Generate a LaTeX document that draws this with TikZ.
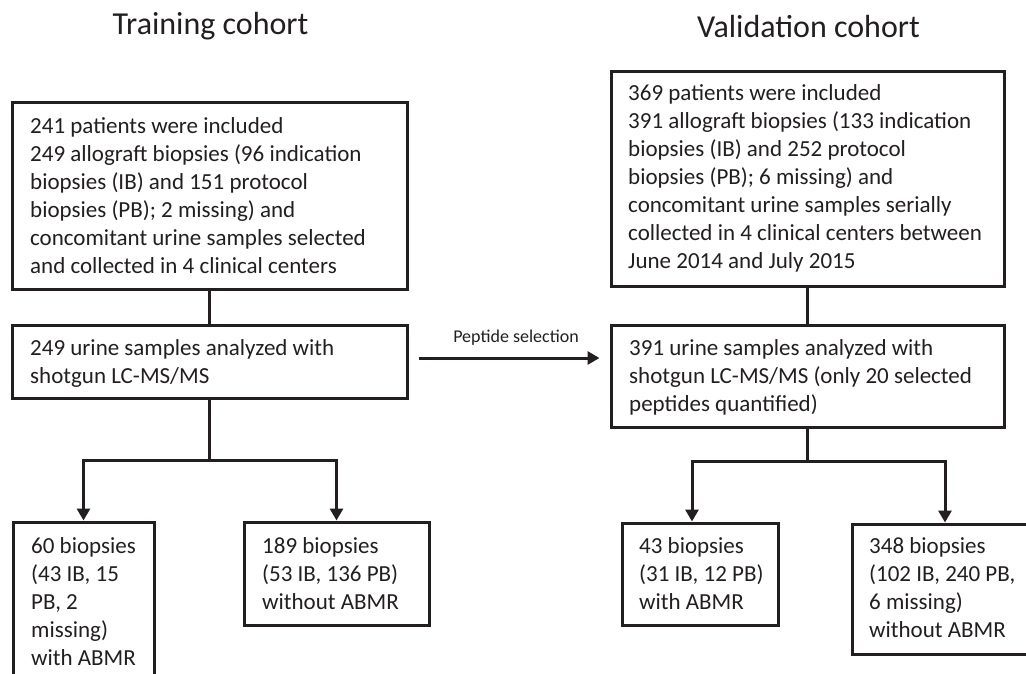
\documentclass[tikz,border=0pt]{standalone}
\usepackage{fontspec}
\setmainfont{Carlito}
\usetikzlibrary{arrows.meta,calc}
\definecolor{ink}{RGB}{35,31,32}
\begin{document}
\begin{tikzpicture}[x=1pt,y=-1pt,
  box/.style={draw=ink, line width=3pt, inner sep=0pt},
  txt/.style={anchor=north west, inner sep=0pt, align=left, text=ink, font=\fontsize{23}{28}\selectfont},
  head/.style={anchor=base, inner sep=0pt, text=ink, font=\fontsize{32}{38}\selectfont},
  lab/.style={anchor=base, inner sep=0pt, text=ink, font=\fontsize{18}{22}\selectfont},
  conn/.style={draw=ink, line width=3pt},
  arr/.style={conn, -{Triangle[length=12pt,width=13pt]}}]
\useasboundingbox (0,0) rectangle (1026,674);
\clip (0,0) rectangle (1026,674);
\fill[white] (0,0) rectangle (1026,674);

% headers
\node[head] (h1) at (210.5,35) {Training cohort};
\node[head] (h2) at (808.5,38) {Validation cohort};

% boxes
\node[box, minimum width=395pt, minimum height=186pt] (A) at (209.5,196) {};
\node[box, minimum width=395pt, minimum height=73pt] (B) at (209.5,361.5) {};
\node[box, minimum width=141pt, minimum height=178pt] (C) at (83.5,611) {};
\node[box, minimum width=185pt, minimum height=103pt] (D) at (336.5,573.5) {};
\node[box, minimum width=393pt, minimum height=214pt] (E) at (807.5,179) {};
\node[box, minimum width=393pt, minimum height=102pt] (F) at (807.5,376) {};
\node[box, minimum width=156pt, minimum height=102pt] (G) at (700,574) {};
\node[box, minimum width=193pt, minimum height=130pt] (H) at (948.5,589) {};

% texts
\node[txt] (At) at (30,113.4) {\strut 241 patients were included\\249 allograft biopsies (96 indication\\biopsies (IB) and 151 protocol\\biopsies (PB); 2 missing) and\\concomitant urine samples selected\\and collected in 4 clinical centers};
\node[txt] (Bt) at (30,335.4) {\strut 249 urine samples analyzed with\\shotgun LC-MS/MS};
\node[txt] (Ct) at (31,533.4) {\strut 60 biopsies\\(43 IB, 15\\PB, 2\\missing)\\with ABMR};
\node[txt] (Dt) at (262,533.4) {\strut 189 biopsies\\(53 IB, 136 PB)\\without ABMR};
\node[txt] (Et) at (628,80.4) {\strut 369 patients were included\\391 allograft biopsies (133 indication\\biopsies (IB) and 252 protocol\\biopsies (PB); 6 missing) and\\concomitant urine samples serially\\collected in 4 clinical centers between\\June 2014 and July 2015};
\node[txt] (Ft) at (629,335.4) {\strut 391 urine samples analyzed with\\shotgun LC-MS/MS (only 20 selected\\peptides quantified)};
\node[txt] (Gt) at (639,533.4) {\strut 43 biopsies\\(31 IB, 12 PB)\\with ABMR};
\node[txt] (Ht) at (869,533.4) {\strut 348 biopsies\\(102 IB, 240 PB,\\6 missing)\\without ABMR};

% connectors, training
\draw[conn] (A.south) -- (B.north);
\coordinate (jL) at (209.5,460);
\draw[conn] (B.south) -- (jL);
\draw[arr] (jL) -| (C.north);
\draw[arr] (jL) -| (D.north);

% connectors, validation
\draw[conn] (E.south) -- (F.north);
\coordinate (jR) at (807.5,461);
\draw[conn] (F.south) -- (jR);
\draw[arr] (jR) -| ($(G.north)+(-8,0)$);
\draw[arr] (jR) -| ($(H.north)+(-3.5,0)$);

% peptide selection
\coordinate (pepy) at (0,358);
\draw[arr, shorten <=10pt, shorten >=10pt] (B.east |- pepy) -- (F.west |- pepy);
\node[lab] (pl) at (516,342) {Peptide selection};
\end{tikzpicture}
\end{document}
